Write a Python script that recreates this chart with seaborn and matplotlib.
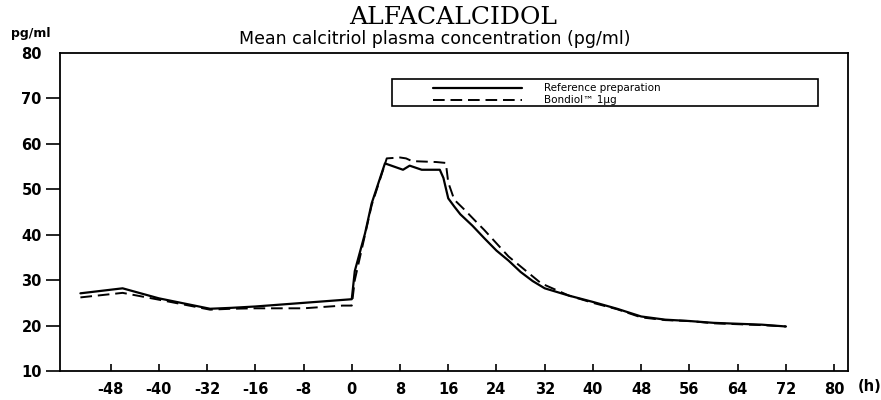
import numpy as np
import pandas as pd
import matplotlib
matplotlib.use("Agg")
import matplotlib.pyplot as plt
from matplotlib.patches import Rectangle
import seaborn as sns

# data (hours after dose, pg/ml)
ref_hours = [-53, -46, -40, -31, -24, -16, -8, 0, 0.5, 2.2, 3.3, 4.4, 5.5, 7, 8.5, 9.6, 11.6, 14.6,
             15.2, 16, 17, 18, 20, 22, 24, 26, 28, 30, 32, 36, 40, 44, 48, 52, 56, 60, 64, 68, 72]
ref_values = [27.1, 28.2, 26.0, 23.7, 23.9, 24.2, 25.0, 25.8, 32.0, 40.3, 46.9, 51.3, 55.7, 55.0, 54.3, 55.2, 54.3, 54.3,
              52.5, 48.0, 46.2, 44.5, 42.0, 39.2, 36.5, 34.3, 31.8, 29.8, 28.2, 26.6, 25.2, 23.7, 22.0, 21.3, 21.0, 20.6, 20.4, 20.2, 19.8]

bon_hours = [-53, -46, -40, -31, -24, -16, -8, -1.5, 0, 0.5, 2.2, 3.3, 4.4, 5.8, 8, 9, 10, 14, 15.6,
             16, 17, 18.7, 20.3, 22, 26, 31.4, 36, 40, 44, 48, 52, 56, 60, 64, 68, 72]
bon_values = [26.2, 27.2, 25.7, 23.5, 23.7, 23.8, 23.8, 24.4, 24.4, 30.0, 40.0, 46.5, 51.0, 56.8, 57.0, 56.8, 56.2, 56.0, 55.8,
              51.5, 47.7, 45.5, 43.3, 41.0, 35.2, 29.3, 26.6, 25.0, 23.6, 21.8, 21.2, 21.0, 20.5, 20.3, 20.1, 19.8]

tick_hours = [-48, -40, -32, -16, -8, 0, 8, 16, 24, 32, 40, 48, 56, 64, 72, 80]
tick_labels = ["-48", "-40", "-32", "-16", "-8", "0", "8", "16", "24", "32", "40", "48", "56", "64", "72", "80"]
y_ticks = [10, 20, 30, 40, 50, 60, 70, 80]

ref = pd.DataFrame({"hours": ref_hours, "conc": ref_values})
bon = pd.DataFrame({"hours": bon_hours, "conc": bon_values})

# the time axis is compressed between -32 h and -16 h
h_knots = [-200, -32, -16, 200]
p_knots = [-192, -24, -16, 200]


def fwd(h):
    return np.interp(h, h_knots, p_knots)


def inv(p):
    return np.interp(p, p_knots, h_knots)


sns.set_style("ticks")
plt.rcParams["font.family"] = ["DejaVu Sans"]
for key in ["text.color", "axes.labelcolor", "xtick.color", "ytick.color"]:
    plt.rcParams[key] = "black"

fig = plt.figure(figsize=(8.81, 4.0), dpi=100)
ax = fig.add_axes([0.068, 0.0725, 0.8946, 0.795])

sns.lineplot(data=ref, x="hours", y="conc", color="black", lw=1.6, ax=ax,
             label="Reference preparation")
sns.lineplot(data=bon, x="hours", y="conc", color="black", lw=1.4, ax=ax,
             label="Bondiol\u2122 1\u00b5g")
ax.lines[1].set_dashes((6, 3))

ax.set_xscale("function", functions=(fwd, inv))
ax.set_xlim(-56.4, 82.3)
ax.set_ylim(10, 80)
ax.set_xticks(tick_hours)
ax.set_xticklabels(tick_labels)
ax.set_yticks(y_ticks)
ax.set_xlabel("")
ax.set_ylabel("")
ax.minorticks_off()

ax.tick_params(axis="x", direction="in", length=5, width=1.2, pad=8,
               labelsize=10.5, top=False)
ax.tick_params(axis="y", direction="out", length=10, width=1.2, pad=3,
               labelsize=10.5)
for lab in ax.get_xticklabels() + ax.get_yticklabels():
    lab.set_fontweight("bold")
ax.yaxis.get_major_ticks()[-1].tick1line.set_visible(False)

for sp in ax.spines.values():
    sp.set_visible(True)
    sp.set_linewidth(1.3)
    sp.set_color("black")

# legend with its own frame
ax.add_patch(Rectangle((0.421, 0.833), 0.541, 0.085, transform=ax.transAxes,
                       fill=False, lw=1.2, color="black"))
ax.legend(loc="upper left", bbox_to_anchor=(0.473, 0.905), frameon=False,
          fontsize=7.5, handlelength=8.6, handletextpad=2.1, labelspacing=0.2,
          borderpad=0, borderaxespad=0)

ax.text(1.012, -0.05, "(h)", transform=ax.transAxes, fontsize=10.5,
        fontweight="bold", va="center", ha="left")

fig.text(0.514, 0.94, "ALFACALCIDOL", family="DejaVu Serif", fontsize=18,
         ha="center", va="baseline")
fig.text(0.494, 0.89, "Mean calcitriol plasma concentration (pg/ml)",
         fontsize=12.5, ha="center", va="baseline")
fig.text(0.012, 0.9175, "pg/ml", fontsize=9, fontweight="bold",
         ha="left", va="center")

fig.savefig("out.png", dpi=100, facecolor="white")
